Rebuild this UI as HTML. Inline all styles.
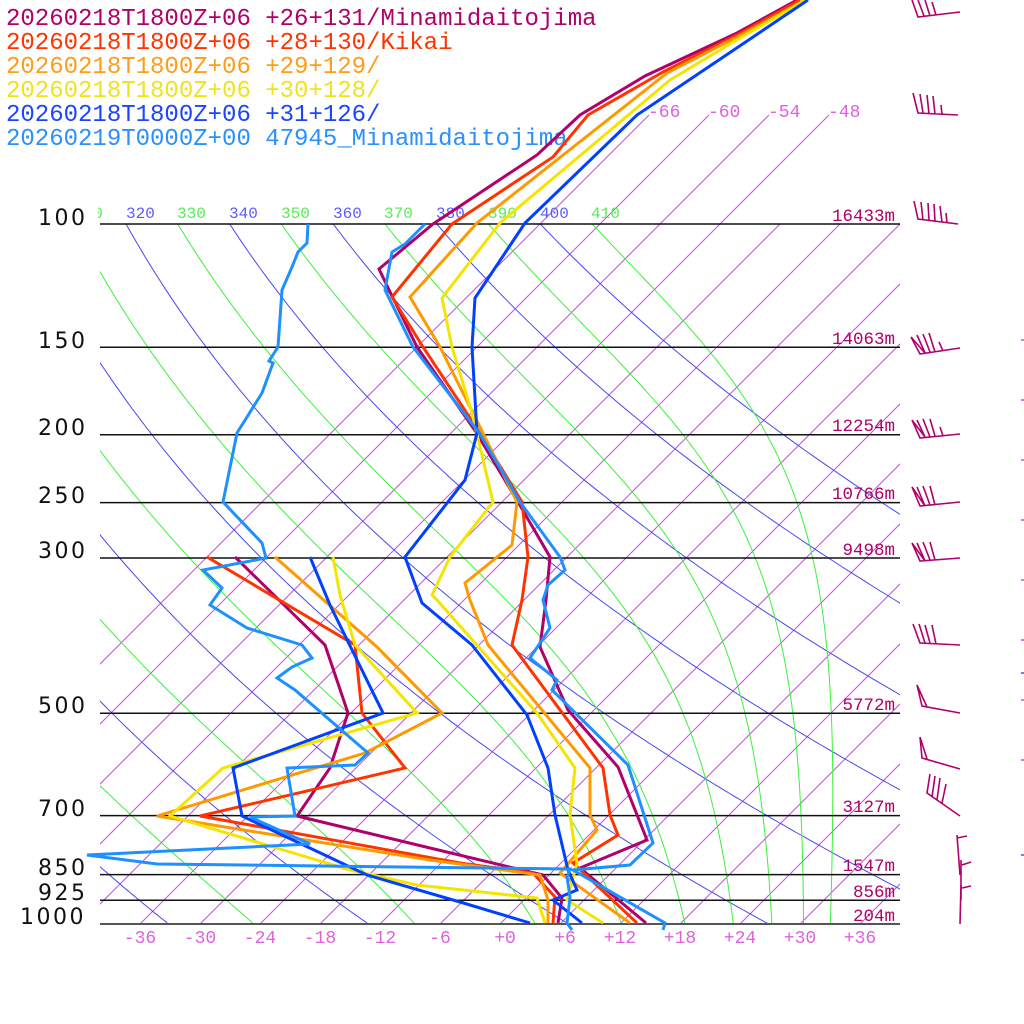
<!DOCTYPE html>
<html><head><meta charset="utf-8">
<style>
html,body{margin:0;padding:0;background:#fff;}
svg{display:block;}
.leg{font-family:"Liberation Mono",monospace;font-size:24px;}
.pl{font-family:"DejaVu Sans","Liberation Sans",sans-serif;font-size:22px;letter-spacing:2.5px;fill:#111;}
.hl{font-family:"Liberation Mono",monospace;font-size:17.5px;fill:#b0006a;text-anchor:end;}
.tl{font-family:"Liberation Mono",monospace;font-size:18px;fill:#e060e0;text-anchor:middle;}
.il{font-family:"Liberation Mono",monospace;font-size:18px;fill:#e060e0;}
.th{font-family:"Liberation Mono",monospace;font-size:16px;}
</style></head><body>
<svg id="s" width="1024" height="1024" viewBox="0 0 1024 1024" xmlns="http://www.w3.org/2000/svg">
<defs>
<clipPath id="c"><rect x="100" y="224" width="800" height="700"/></clipPath>
<clipPath id="c2"><rect x="98" y="190" width="802" height="40"/></clipPath>
</defs>
<rect width="1024" height="1024" fill="#fff"/>

<!-- legend -->
<text class="leg" x="6" y="25" fill="#b0006a">20260218T1800Z+06 +26+131/Minamidaitojima</text>
<text class="leg" x="6" y="49" fill="#ff3300">20260218T1800Z+06 +28+130/Kikai</text>
<text class="leg" x="6" y="73" fill="#ff9c1a">20260218T1800Z+06 +29+129/</text>
<text class="leg" x="6" y="97" fill="#f0e21e">20260218T1800Z+06 +30+128/</text>
<text class="leg" x="6" y="121" fill="#1a44ff">20260218T1800Z+06 +31+126/</text>
<text class="leg" x="6" y="145" fill="#2a8fff">20260219T0000Z+00 47945_Minamidaitojima</text>

<!-- isotherms -->
<g clip-path="url(#c)" stroke="#d04ae8" stroke-width="1" fill="none">
<line x1="-160" y1="924" x2="540" y2="224"/>
<line x1="-100" y1="924" x2="600" y2="224"/>
<line x1="-40" y1="924" x2="660" y2="224"/>
<line x1="20" y1="924" x2="720" y2="224"/>
<line x1="80" y1="924" x2="780" y2="224"/>
<line x1="140" y1="924" x2="840" y2="224"/>
<line x1="200" y1="924" x2="900" y2="224"/>
<line x1="260" y1="924" x2="960" y2="224"/>
<line x1="320" y1="924" x2="1020" y2="224"/>
<line x1="380" y1="924" x2="1080" y2="224"/>
<line x1="440" y1="924" x2="1140" y2="224"/>
<line x1="500" y1="924" x2="1200" y2="224"/>
<line x1="560" y1="924" x2="1260" y2="224"/>
<line x1="620" y1="924" x2="1320" y2="224"/>
<line x1="680" y1="924" x2="1380" y2="224"/>
<line x1="740" y1="924" x2="1440" y2="224"/>
<line x1="800" y1="924" x2="1500" y2="224"/>
<line x1="860" y1="924" x2="1560" y2="224"/>
</g>
<g stroke="#d04ae8" stroke-width="1" fill="none">
<line x1="540" y1="224" x2="649" y2="115"/>
<line x1="600" y1="224" x2="709" y2="115"/>
<line x1="660" y1="224" x2="769" y2="115"/>
<line x1="720" y1="224" x2="829" y2="115"/>
</g>
<text class="il" x="648" y="117">-66</text>
<text class="il" x="708" y="117">-60</text>
<text class="il" x="768" y="117">-54</text>
<text class="il" x="828" y="117">-48</text>

<!-- adiabats (generated) -->
<g id="grid" clip-path="url(#c)" fill="none" stroke-width="1"></g>

<!-- theta labels -->
<g clip-path="url(#c2)" class="th">
<text x="74" y="218" fill="#55ee55">310</text>
<text x="126" y="218" fill="#5a5aff">320</text>
<text x="177" y="218" fill="#55ee55">330</text>
<text x="229" y="218" fill="#5a5aff">340</text>
<text x="281" y="218" fill="#55ee55">350</text>
<text x="333" y="218" fill="#5a5aff">360</text>
<text x="384" y="218" fill="#55ee55">370</text>
<text x="436" y="218" fill="#5a5aff">380</text>
<text x="488" y="218" fill="#55ee55">390</text>
<text x="540" y="218" fill="#5a5aff">400</text>
<text x="591" y="218" fill="#55ee55">410</text>
</g>

<!-- pressure lines -->
<g stroke="#111" stroke-width="1.5">
<line x1="100" y1="224" x2="900" y2="224"/>
<line x1="100" y1="347.3" x2="900" y2="347.3"/>
<line x1="100" y1="434.7" x2="900" y2="434.7"/>
<line x1="100" y1="502.6" x2="900" y2="502.6"/>
<line x1="100" y1="558" x2="900" y2="558"/>
<line x1="100" y1="713.3" x2="900" y2="713.3"/>
<line x1="100" y1="815.6" x2="900" y2="815.6"/>
<line x1="100" y1="874.6" x2="900" y2="874.6"/>
<line x1="100" y1="900.3" x2="900" y2="900.3"/>
</g>
<line x1="100" y1="924" x2="900" y2="924" stroke="#555" stroke-width="2"/>

<!-- pressure labels -->
<text class="pl" x="38" y="225">100</text>
<text class="pl" x="38" y="348">150</text>
<text class="pl" x="38" y="435">200</text>
<text class="pl" x="38" y="503">250</text>
<text class="pl" x="38" y="558">300</text>
<text class="pl" x="38" y="713">500</text>
<text class="pl" x="38" y="816">700</text>
<text class="pl" x="38" y="875">850</text>
<text class="pl" x="38" y="900">925</text>
<text class="pl" x="20" y="924">1000</text>

<!-- height labels -->
<text class="hl" x="895" y="221">16433m</text>
<text class="hl" x="895" y="344">14063m</text>
<text class="hl" x="895" y="431">12254m</text>
<text class="hl" x="895" y="499">10766m</text>
<text class="hl" x="895" y="555">9498m</text>
<text class="hl" x="895" y="710">5772m</text>
<text class="hl" x="895" y="812">3127m</text>
<text class="hl" x="895" y="871">1547m</text>
<text class="hl" x="895" y="897">856m</text>
<text class="hl" x="895" y="921">204m</text>

<!-- temperature labels -->
<text class="tl" x="140" y="943">-36</text>
<text class="tl" x="200" y="943">-30</text>
<text class="tl" x="260" y="943">-24</text>
<text class="tl" x="320" y="943">-18</text>
<text class="tl" x="380" y="943">-12</text>
<text class="tl" x="440" y="943">-6</text>
<text class="tl" x="505" y="943">+0</text>
<text class="tl" x="565" y="943">+6</text>
<text class="tl" x="620" y="943">+12</text>
<text class="tl" x="680" y="943">+18</text>
<text class="tl" x="740" y="943">+24</text>
<text class="tl" x="800" y="943">+30</text>
<text class="tl" x="860" y="943">+36</text>

<!-- data series -->
<g fill="none" stroke-width="3" stroke-linejoin="miter">
<polyline stroke="#b0006a" points="797,0 737,33 645,76 580,115 537,155 433,224 379,269 392,296 417,347 476,432 518,502 550,557 546,600 540,647 568,710 618,767 647,840 580,868 646,923"/>
<polyline stroke="#b0006a" points="235,557 325,645 348,713 340,737 330,768 297,816 430,848 543,875 562,898 558,923"/>
<polyline stroke="#ff3300" points="800,0 737,35 663,72 588,115 553,157 452,224 392,297 423,347 478,430 522,502 528,557 522,600 512,645 603,768 610,815 618,835 573,863 637,923"/>
<polyline stroke="#ff3300" points="207,557 355,645 362,713 405,768 200,816 460,863 533,873 555,897 553,923"/>
<polyline stroke="#ff9900" points="805,0 737,37 667,73 477,223 410,297 440,347 480,427 517,502 512,545 465,583 470,600 488,645 590,768 590,815 597,830 560,873 630,923"/>
<polyline stroke="#ff9900" points="275,557 377,647 442,713 365,753 157,816 430,860 540,875 548,900 548,923"/>
<polyline stroke="#f5e400" points="806,0 740,38 670,80 500,223 442,298 452,347 472,413 493,502 450,557 432,595 437,600 537,713 575,768 570,815 577,863 567,900 603,923"/>
<polyline stroke="#f5e400" points="333,557 340,595 355,645 417,713 223,768 170,816 260,843 350,870 417,885 537,898 545,923"/>
<polyline stroke="#0040ff" points="808,0 637,115 525,223 475,298 472,347 477,433 465,480 405,557 422,603 472,645 527,715 548,768 555,815 568,870 577,890 553,900 582,923"/>
<polyline stroke="#0040ff" points="310,557 330,605 383,713 233,768 242,816 367,875 460,902 530,923"/>
<polyline stroke="#1e90ff" points="425,224 405,244 392,252 385,290 413,347 480,434 520,502 560,557 565,570 548,585 543,600 550,628 530,658 557,680 552,690 628,765 653,843 630,865 573,870 665,923 663,930"/>
<polyline stroke="#1e90ff" points="308,224 307,243 298,252 292,267 282,290 278,347 269,361 273,363 262,393 237,433 223,502 262,543 266,558 203,570 222,588 210,605 247,628 302,645 312,658 292,667 277,678 295,690 368,753 355,765 287,768 295,816 250,817 310,844 87,855 157,864 570,869 567,877 570,897 567,923 572,930"/>
</g>

<!-- wind barbs -->
<g stroke="#b0006a" stroke-width="1.6" fill="none">
<path d="M960,12 L918,17 L912,0 M924,16 L918,0 M930,16 L925,0 M936,15 L932,2"/>
<path d="M958,115 L918,113 L913,93 M923,113 L920,94 M929,114 L927,95 M935,114 L933,96 M942,114 L941,105"/>
<path d="M958,224 L918,219 L914,201 M923,220 L921,202 M929,220 L928,203 M935,221 L934,204 M942,222 L940,206 M947,223 L946,213"/>
<path d="M960,348 L920,354 L911,337 L925,353 L917,335 M930,352 L923,334 M935,352 L929,333 M943,351 L939,342"/>
<path d="M960,434 L920,438 L912,420 L925,437 L917,420 M930,437 L923,419 M935,436 L930,419 M943,436 L940,427"/>
<path d="M960,502 L920,506 L912,487 L925,506 L917,487 M930,505 L923,486 M935,505 L930,486"/>
<path d="M960,558 L920,561 L912,543 L925,561 L917,543 M930,560 L923,542 M935,560 L930,542"/>
<path d="M960,645 L920,643 L913,624 M925,643 L919,624 M930,643 L925,625 M936,644 L932,625"/>
<path d="M960,713 L922,706 L917,685 L927,707"/>
<path d="M960,769 L922,758 L920,737 L927,759"/>
<path d="M960,816 L927,793 L930,774 M932,797 L935,776 M937,800 L940,778 M942,803 L946,784"/>
<path d="M960,875 L957,835 M957,838 L967,836"/>
<path d="M961,900 L961,860 M962,865 L971,862"/>
<path d="M960,924 L961,885 M962,888 L971,886"/>
</g>

<!-- tiny right edge marks -->
<g stroke-width="1.5">
<line x1="1021" y1="340" x2="1024" y2="340" stroke="#d04ae8"/>
<line x1="1021" y1="400" x2="1024" y2="400" stroke="#d04ae8"/>
<line x1="1021" y1="460" x2="1024" y2="460" stroke="#d04ae8"/>
<line x1="1021" y1="520" x2="1024" y2="520" stroke="#d04ae8"/>
<line x1="1021" y1="580" x2="1024" y2="580" stroke="#d04ae8"/>
<line x1="1021" y1="640" x2="1024" y2="640" stroke="#d04ae8"/>
<line x1="1021" y1="673" x2="1024" y2="673" stroke="#4b4bf0"/>
<line x1="1021" y1="700" x2="1024" y2="700" stroke="#d04ae8"/>
<line x1="1021" y1="760" x2="1024" y2="760" stroke="#d04ae8"/>
<line x1="1021" y1="855" x2="1024" y2="855" stroke="#4b4bf0"/>
</g>
</svg>
<script>
(function(){
var g=document.getElementById('grid');
var NS='http://www.w3.org/2000/svg';
var kap=0.2857;
function Y(p){return 924-304*Math.log(1000/p);}
function X(T,y){return 500+10*T+(924-y);}
function add(pts,col){var e=document.createElementNS(NS,'polyline');e.setAttribute('points',pts.join(' '));e.setAttribute('stroke',col);g.appendChild(e);}
var th,p,T,y,pts;
for(th=220;th<=400;th+=20){pts=[];for(p=90;p<=1060;p+=5){T=th*Math.pow(p/1000,kap)-273.15;y=Y(p);pts.push(X(T,y).toFixed(1)+','+y.toFixed(1));}add(pts,'#4848f0');}
function es(Tc){return 6.112*Math.exp(17.67*Tc/(Tc+243.5));}
function dTdp(T,p){var e=es(T-273.15);var rs=0.622*e/(p-e);return (287.04*T+2.501e6*rs)/(p*(1005.7+2.501e6*2.501e6*rs*0.622/(287.04*T*T)));}
for(var te=230;te<=410;te+=20){T=te*Math.pow(0.1,kap);pts=[];p=100;var dp=1;
 while(p<=1060){y=Y(p);pts.push(X(T-273.15,y).toFixed(1)+','+y.toFixed(1));
  var k1=dTdp(T,p),k2=dTdp(T+k1*dp,p+dp);T+=0.5*(k1+k2)*dp;p+=dp;}
 add(pts,'#3cf03c');}
})();
</script>
</body></html>
